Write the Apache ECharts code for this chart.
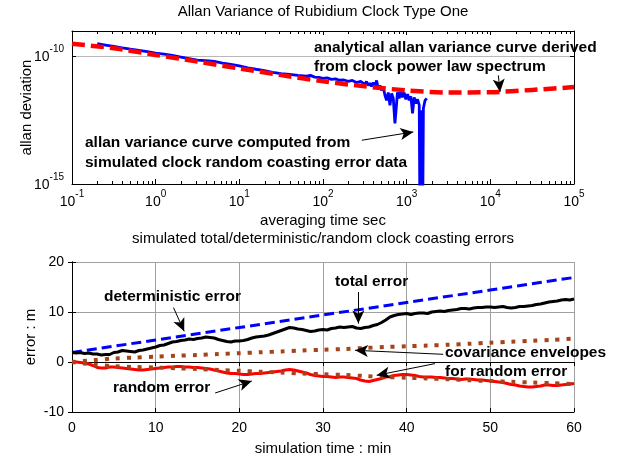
<!DOCTYPE html>
<html>
<head>
<meta charset="utf-8">
<script src="https://cdn.jsdelivr.net/npm/echarts@6/dist/echarts.min.js"></script>
<style>html,body{margin:0;padding:0;background:#fff;}#c{width:619px;height:457px;}</style>
</head>
<body>
<div id="c"></div>
<script>
// ---------- Top plot data (Allan deviation) ----------
const topXTickLabels = ['-1', '0', '1', '2', '3', '4', '5'];
const topYTickLabels = ['-15', '-10'];
const minorTau = [0.2,0.3,0.4,0.5,0.6,0.7,0.8,0.9, 2,3,4,5,6,7,8,9, 20,30,40,50,60,70,80,90,
  200,300,400,500,600,700,800,900, 2000,3000,4000,5000,6000,7000,8000,9000,
  20000,30000,40000,50000,60000,70000,80000,90000];

const analyticTau = [0.1, 0.316, 1, 3.16, 10, 31.6, 100, 316, 1000, 3162, 10000, 31623, 100000];
const analyticSigma = [3.16e-10, 2.09e-10, 1.15e-10, 6.31e-11, 3.39e-11, 1.86e-11, 1.07e-11,
  6.76e-12, 4.68e-12, 3.89e-12, 3.98e-12, 4.90e-12, 6.31e-12];

const simTau = [0.2, 0.251, 0.316, 0.398, 0.501, 0.631, 0.794, 1, 1.26, 1.58, 2.0, 2.51, 3.16, 3.98,
  5.01, 6.31, 7.94, 10, 12.6, 15.8, 20, 25.1, 31.6, 39.8, 50.1, 63.1, 70.8, 79.4, 89.1, 100,
  112, 126, 141, 158, 178, 200, 224, 251, 282,
  316, 331, 347, 363, 380, 398, 417, 437, 457, 479, 501, 525, 550, 575, 603, 631, 661, 692, 724, 750,
  776, 813, 851, 891, 933, 977, 1023, 1072, 1122, 1175, 1230, 1288, 1349, 1413, 1445, 1496, 1549,
  1585, 1660, 1738];
const simSigma = [3.16e-10, 2.82e-10, 2.51e-10, 2.19e-10, 1.95e-10, 1.74e-10, 1.55e-10, 1.35e-10,
  1.23e-10, 1.10e-10, 9.55e-11, 8.32e-11, 7.24e-11, 6.92e-11, 6.46e-11, 5.50e-11, 4.90e-11,
  4.27e-11, 3.55e-11, 3.16e-11, 2.82e-11, 2.40e-11, 2.14e-11, 2.00e-11, 1.82e-11, 1.70e-11,
  1.82e-11, 1.55e-11, 1.51e-11, 1.38e-11, 1.45e-11, 1.26e-11, 1.32e-11, 1.17e-11, 1.20e-11,
  1.07e-11, 1.15e-11, 9.55e-12, 1.05e-11,
  8.13e-12, 1.05e-11, 7.41e-12, 8.91e-12, 6.76e-12, 9.55e-12, 6.17e-12, 1.15e-11, 5.62e-12, 7.41e-12,
  4.68e-12, 6.17e-12, 3.02e-12, 1.91e-12, 3.89e-12, 1.23e-12, 3.55e-12, 2.29e-12, 2.40e-13, 9.33e-13,
  3.89e-12, 2.29e-12, 4.27e-12, 2.51e-12, 3.89e-12, 2.09e-12, 3.31e-12, 1.91e-12, 2.75e-12, 5.89e-13,
  2.51e-12, 1.45e-12, 2.09e-12, 1.23e-12, 1e-17, 7.76e-13, 1e-17, 9.33e-13, 1.91e-12, 2.29e-12];

// ---------- Bottom plot data (coasting errors) ----------
const bottomXTicks = [0, 10, 20, 30, 40, 50, 60];
const bottomYTicks = [-10, 0, 10, 20];
const detTime = [0, 10, 20, 30, 40, 50, 60];
const detError = [1.9, 4.4, 6.9, 9.4, 11.9, 14.4, 16.9];

const simTime = [0,0.5,1,1.5,2,2.5,3,3.5,4,4.5,5,5.5,6,6.5,7,7.5,8,8.5,9,9.5,10,10.5,11,11.5,12,12.5,13,13.5,14,14.5,
  15,15.5,16,16.5,17,17.5,18,18.5,19,19.5,20,20.5,21,21.5,22,22.5,23,23.5,24,24.5,25,25.5,26,26.5,27,27.5,28,28.5,29,29.5,
  30,30.5,31,31.5,32,32.5,33,33.5,34,34.5,35,35.5,36,36.5,37,37.5,38,38.5,39,39.5,40,40.5,41,41.5,42,42.5,43,43.5,44,44.5,
  45,45.5,46,46.5,47,47.5,48,48.5,49,49.5,50,50.5,51,51.5,52,52.5,53,53.5,54,54.5,55,55.5,56,56.5,57,57.5,58,58.5,59,59.5,60];
const totalError = [1.9,1.8,1.9,1.7,1.8,1.6,1.6,1.4,1.5,1.5,1.9,2.0,2.3,2.2,2.1,2.0,2.3,2.4,2.6,2.8,3.0,3.3,3.4,3.7,4.0,4.1,4.3,4.4,4.6,4.5,
  4.7,4.8,5.0,4.9,4.8,4.5,4.3,4.1,4.0,4.2,4.2,4.3,4.5,4.8,5.0,5.1,5.2,5.4,5.7,6.0,6.3,6.6,6.9,6.8,6.6,6.5,6.3,6.1,6.2,6.4,
  6.5,6.4,6.7,6.8,7.0,6.9,7.0,7.1,6.8,6.7,6.9,7.0,7.3,7.5,7.9,8.4,9.0,9.3,9.5,9.6,9.7,9.5,9.7,9.8,9.8,9.7,10.0,10.1,10.2,10.1,
  10.3,10.4,10.5,10.7,10.7,10.6,10.8,10.9,10.9,11.0,11.0,10.9,11.0,11.1,10.9,10.8,10.9,11.1,11.1,11.2,11.3,11.5,11.6,11.8,12.0,12.1,12.2,12.4,12.5,12.4,12.6];
const randomError = [0.1,0.0,-0.1,-0.2,-0.4,-0.7,-1.1,-1.2,-1.2,-1.0,-1.0,-1.1,-1.2,-1.3,-1.4,-1.5,-1.6,-1.6,-1.5,-1.4,-1.3,-1.2,-1.1,-1.0,-1.0,-0.9,-0.9,-1.0,-1.0,-1.1,
  -1.1,-1.2,-1.3,-1.4,-1.6,-1.8,-2.0,-2.2,-2.3,-2.3,-2.4,-2.5,-2.5,-2.4,-2.3,-2.3,-2.2,-2.1,-2.0,-1.9,-1.8,-1.6,-1.5,-1.6,-1.8,-2.0,-2.2,-2.5,-2.7,-2.8,
  -2.9,-2.9,-3.0,-3.1,-3.0,-3.0,-3.1,-3.2,-3.3,-3.6,-3.8,-3.9,-3.7,-3.5,-3.3,-3.0,-2.9,-2.7,-2.6,-2.5,-2.5,-2.6,-2.7,-2.9,-3.0,-3.0,-3.0,-3.1,-3.1,-3.2,
  -3.3,-3.3,-3.4,-3.5,-3.4,-3.4,-3.5,-3.6,-3.6,-3.7,-3.8,-3.9,-4.0,-4.1,-4.3,-4.5,-4.6,-4.8,-4.9,-5.0,-5.0,-4.9,-4.8,-4.6,-4.6,-4.7,-4.7,-4.6,-4.5,-4.4,-4.3];

const envTime = [0,2.5,5,7.5,10,12.5,15,17.5,20,22.5,25,27.5,30,32.5,35,37.5,40,42.5,45,47.5,50,52.5,55,57.5,60];
const envUpper = [0,0.35,0.7,0.9,1.05,1.25,1.4,1.6,1.75,1.95,2.1,2.3,2.45,2.6,2.8,3.0,3.15,3.3,3.45,3.65,3.85,4.05,4.25,4.45,4.7];
const envLower = [0,-0.5,-0.85,-1.0,-1.1,-1.25,-1.4,-1.6,-1.75,-1.95,-2.1,-2.3,-2.45,-2.6,-2.8,-3.0,-3.15,-3.3,-3.45,-3.65,-3.8,-3.95,-4.1,-4.25,-4.4];

// ---------- Annotations ----------
const topArrows = [
  [[291, 5.2e-14], [1202, 1.1e-13]],
  [[12470, 1.82e-11], [13060, 4.05e-12]]
];
const bottomArrows = [
  [[12.13, 10.88], [13.41, 6.14]],
  [[34.22, 14.0], [34.22, 7.68]],
  [[44.37, 1.54], [33.83, 2.34]],
  [[43.38, -0.32], [36.42, -2.66]],
  [[17.11, -6.2], [21.49, -3.8]]
];

const FONT = 'Liberation Sans, Arial, sans-serif';
const pairs = (xs, ys) => xs.map((x, i) => [x, ys[i]]);
const expOf = v => Math.round(Math.log10(v));

const chart = echarts.init(document.getElementById('c'), null, {renderer: 'canvas'});

const L = 72, R = 45;
const topGrid = {left: L, right: R, top: 31, height: 153};
const botGrid = {left: L, right: R, top: 262, height: 150};

function arrowLines(arr) {
  return {
    silent: true,
    symbol: ['none', 'arrow'],
    symbolSize: [9, 13],
    label: {show: false},
    lineStyle: {color: '#000', width: 1, type: 'solid'},
    itemStyle: {color: '#000'},
    animation: false,
    data: arr.map(a => [{coord: a[0]}, {coord: a[1]}])
  };
}

const richSup = {
  b: {fontSize: 14, fontFamily: FONT, color: '#000', lineHeight: 20, verticalAlign: 'bottom'},
  s: {fontSize: 10, fontFamily: FONT, color: '#000', lineHeight: 11, verticalAlign: 'top'}
};

const noLabelAxis = {
  axisLabel: {show: false}, splitLine: {show: false},
  axisLine: {show: true, lineStyle: {color: '#000', width: 1}},
  axisTick: {show: true, inside: true, length: 4, lineStyle: {color: '#000'}}
};
const nameStyle = {fontFamily: FONT, fontSize: 15, color: '#000'};
const annFont = 'bold 15.5px ' + FONT;

const option = {
  animation: false,
  backgroundColor: '#fff',
  title: [
    {text: 'Allan Variance of Rubidium Clock Type One', left: 323, top: 4, padding: 0, textAlign: 'center',
      textStyle: {fontFamily: FONT, fontSize: 15, fontWeight: 'normal', color: '#000'}},
    {text: 'simulated total/deterministic/random clock coasting errors', left: 323, top: 231, padding: 0, textAlign: 'center',
      textStyle: {fontFamily: FONT, fontSize: 15, fontWeight: 'normal', color: '#000'}}
  ],
  grid: [topGrid, botGrid],
  xAxis: [
    {
      type: 'log', gridIndex: 0, min: 0.1, max: 100000, logBase: 10,
      name: 'averaging time sec', nameLocation: 'middle', nameGap: 29, nameTextStyle: nameStyle,
      axisLine: {show: true, onZero: false, lineStyle: {color: '#000'}},
      axisTick: {show: true, inside: true, length: 5, lineStyle: {color: '#000'}},
      splitLine: {show: false},
      axisLabel: {
        margin: 5, rich: richSup,
        formatter: function (v) {
          const e = String(expOf(v));
          return topXTickLabels.indexOf(e) < 0 ? '' : '{b|10}{s|' + e + '}';
        }
      }
    },
    Object.assign({type: 'log', gridIndex: 0, min: 0.1, max: 100000, position: 'top'}, noLabelAxis),
    {
      type: 'value', gridIndex: 1, min: 0, max: 60, interval: 10,
      name: 'simulation time : min', nameLocation: 'middle', nameGap: 29, nameTextStyle: nameStyle,
      axisLine: {show: true, onZero: false, lineStyle: {color: '#000'}},
      axisTick: {show: true, inside: true, length: 4, lineStyle: {color: '#000'}},
      splitLine: {show: true, lineStyle: {color: '#a0a0a0', width: 1}},
      axisLabel: {fontFamily: FONT, fontSize: 14, color: '#000', margin: 9,
        formatter: v => (bottomXTicks.indexOf(v) < 0 ? '' : String(v))}
    },
    Object.assign({type: 'value', gridIndex: 1, min: 0, max: 60, interval: 10, position: 'top'}, noLabelAxis)
  ],
  yAxis: [
    {
      type: 'log', gridIndex: 0, min: 1e-15, max: 1e-9, logBase: 10, splitNumber: 1,
      name: 'allan deviation', nameLocation: 'middle', nameGap: 38, nameMoveOverlap: false, nameTextStyle: nameStyle,
      axisLine: {show: true, onZero: false, lineStyle: {color: '#000'}},
      axisTick: {show: true, inside: true, length: 4, lineStyle: {color: '#000'}},
      splitLine: {show: true, lineStyle: {color: '#b8b8b8', width: 1}},
      axisLabel: {
        margin: 8, rich: richSup, padding: [0, 0, 4, 0],
        formatter: function (v) {
          const e = String(expOf(v));
          return topYTickLabels.indexOf(e) < 0 ? '' : '{b|10}{s|' + e + '}';
        }
      }
    },
    Object.assign({type: 'log', gridIndex: 0, min: 1e-15, max: 1e-9, splitNumber: 1, position: 'right'}, noLabelAxis),
    {
      type: 'value', gridIndex: 1, min: -10, max: 20, interval: 10,
      name: 'error : m', nameLocation: 'middle', nameGap: 34, nameMoveOverlap: false, nameTextStyle: nameStyle,
      axisLine: {show: true, onZero: false, lineStyle: {color: '#000'}},
      axisTick: {show: true, inside: true, length: 4, lineStyle: {color: '#000'}},
      splitLine: {show: true, lineStyle: {color: '#a0a0a0', width: 1}},
      axisLabel: {fontFamily: FONT, fontSize: 14, color: '#000', margin: 8,
        formatter: v => (bottomYTicks.indexOf(v) < 0 ? '' : String(v))}
    },
    Object.assign({type: 'value', gridIndex: 1, min: -10, max: 20, interval: 10, position: 'right'}, noLabelAxis)
  ],
  series: [
    {
      type: 'custom', xAxisIndex: 0, yAxisIndex: 0, silent: true,
      data: minorTau.map(t => [t, 1e-12]),
      renderItem: function (params, api) {
        const pb = api.coord([api.value(0), 1e-15]);
        const pt = api.coord([api.value(0), 1e-9]);
        const x = Math.round(pb[0]) + 0.5;
        return {type: 'group', children: [
          {type: 'line', shape: {x1: x, y1: pb[1], x2: x, y2: pb[1] - 3}, style: {stroke: '#000', lineWidth: 1}},
          {type: 'line', shape: {x1: x, y1: pt[1], x2: x, y2: pt[1] + 3}, style: {stroke: '#000', lineWidth: 1}}
        ]};
      }
    },
    {
      type: 'line', xAxisIndex: 0, yAxisIndex: 0, data: pairs(simTau, simSigma),
      showSymbol: false, clip: true, lineStyle: {color: '#0000ff', width: 2.8}, z: 3
    },
    {
      type: 'line', xAxisIndex: 0, yAxisIndex: 0, data: pairs(analyticTau, analyticSigma), smooth: 0.3,
      showSymbol: false, lineStyle: {color: '#ff0000', width: 4.5, type: [13, 6]}, z: 4,
      markLine: arrowLines(topArrows)
    },
    {
      type: 'line', xAxisIndex: 2, yAxisIndex: 2, data: pairs(detTime, detError),
      showSymbol: false, lineStyle: {color: '#0000ff', width: 3, type: [10, 5]}, z: 3
    },
    {
      type: 'line', xAxisIndex: 2, yAxisIndex: 2, data: pairs(simTime, totalError),
      showSymbol: false, lineStyle: {color: '#000000', width: 3}, z: 3
    },
    {
      type: 'line', xAxisIndex: 2, yAxisIndex: 2, data: pairs(simTime, randomError),
      showSymbol: false, lineStyle: {color: '#ff0000', width: 3}, z: 3
    },
    {
      type: 'line', xAxisIndex: 2, yAxisIndex: 2, data: pairs(envTime, envUpper), smooth: 0.3,
      showSymbol: false, lineStyle: {color: '#a5441b', width: 4, type: [4, 7]}, z: 4
    },
    {
      type: 'line', xAxisIndex: 2, yAxisIndex: 2, data: pairs(envTime, envLower), smooth: 0.3,
      showSymbol: false, lineStyle: {color: '#a5441b', width: 4, type: [4, 7]}, z: 4,
      markLine: arrowLines(bottomArrows)
    }
  ],
  graphic: [
    {type: 'text', left: 314, top: 40, z: 100, style: {text: 'analytical allan variance curve derived', font: annFont, fill: '#000'}},
    {type: 'text', left: 314, top: 59, z: 100, style: {text: 'from clock power law spectrum', font: annFont, fill: '#000'}},
    {type: 'text', left: 85, top: 135, z: 100, style: {text: 'allan variance curve computed from', font: annFont, fill: '#000'}},
    {type: 'text', left: 85, top: 155, z: 100, style: {text: 'simulated clock random coasting error data', font: annFont, fill: '#000'}},
    {type: 'text', left: 104, top: 289, z: 100, style: {text: 'deterministic error', font: annFont, fill: '#000'}},
    {type: 'text', left: 335, top: 274, z: 100, style: {text: 'total error', font: annFont, fill: '#000'}},
    {type: 'text', left: 445, top: 345, z: 100, style: {text: 'covariance envelopes', font: annFont, fill: '#000'}},
    {type: 'text', left: 445, top: 364, z: 100, style: {text: 'for random error', font: annFont, fill: '#000'}},
    {type: 'text', left: 113, top: 380, z: 100, style: {text: 'random error', font: annFont, fill: '#000'}}
  ]
};
chart.setOption(option);
</script>
</body>
</html>
